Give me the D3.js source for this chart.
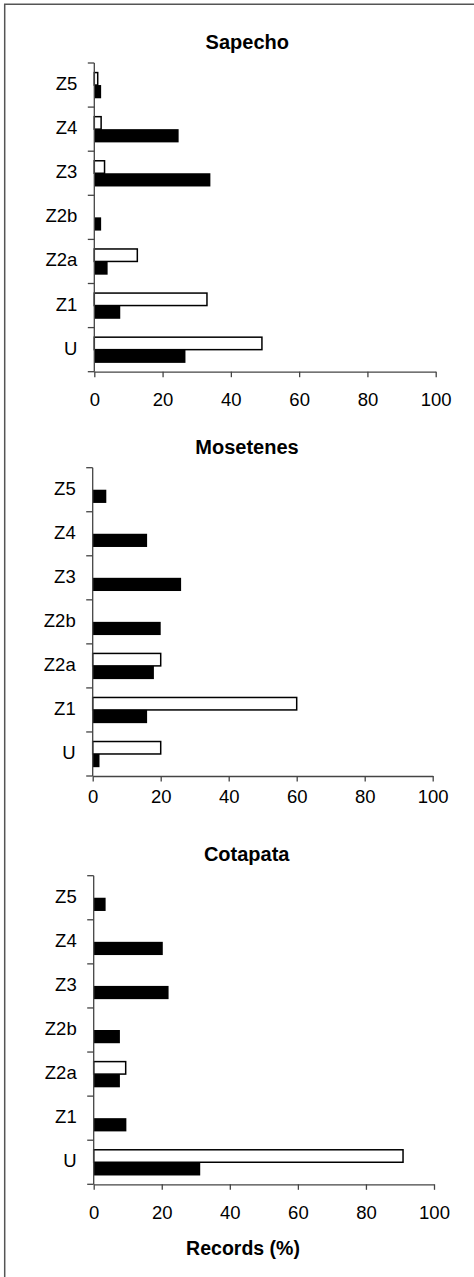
<!DOCTYPE html>
<html>
<head>
<meta charset="utf-8">
<script src="https://cdn.jsdelivr.net/npm/d3@7/dist/d3.min.js"></script>
<style>
  html, body { margin: 0; padding: 0; background: #fff; }
  svg { display: block; }
  text { font-family: "Liberation Sans", Arial, sans-serif; fill: #000; }
</style>
</head>
<body>
<svg id="chart" width="474" height="1277"></svg>
<script>
// ---- Data ----
const categories = ["Z5", "Z4", "Z3", "Z2b", "Z2a", "Z1", "U"];
const xTicks = [0, 20, 40, 60, 80, 100];
const siteNames = ["Sapecho", "Mosetenes", "Cotapata"];
const xAxisTitle = "Records (%)";

// white (open) bars and black (filled) bars, in category order
const sapechoOpen  = [1, 2, 3, 0, 12.6, 33, 49.1];
const sapechoFill  = [2, 24.7, 34, 2, 3.9, 7.6, 26.7];
const mosetenesOpen = [0, 0, 0, 0, 20, 60, 20];
const mosetenesFill = [4, 16, 26, 20, 18, 16, 2];
const cotapataOpen = [0, 0, 0, 0, 9.4, 0, 90.9];
const cotapataFill = [3.5, 20.3, 22, 7.7, 7.7, 9.6, 31.3];

const seriesKeys = ["open", "fill"];

const panelsData = [
  { name: siteNames[0], open: sapechoOpen, fill: sapechoFill },
  { name: siteNames[1], open: mosetenesOpen, fill: mosetenesFill },
  { name: siteNames[2], open: cotapataOpen, fill: cotapataFill }
];

// ---- Layout (positions only) ----
const layout = [
  { top: 63,    bottom: 371.7,  x0: 94.3, x1: 435.7, titleX: 247.3, titleY: 42,    tickPad: 15.6 },
  { top: 467.7, bottom: 776,    x0: 92.7, x1: 432.7, titleX: 247,   titleY: 446.7, tickPad: 8.7 },
  { top: 875.7, bottom: 1184.3, x0: 93.7, x1: 434,   titleX: 246.7, titleY: 854.3, tickPad: 16.4 }
];

const svg = d3.select("#chart");

// frame (left + top edges visible)
svg.append("path")
  .attr("d", "M4.7,1277 L4.7,4.3 L474,4.3")
  .attr("fill", "none")
  .attr("stroke", "#555")
  .attr("stroke-width", 1.5);

const axisColor = "#444";

panelsData.forEach((p, i) => {
  const L = layout[i];
  const g = svg.append("g");

  const x = d3.scaleLinear().domain([0, 100]).range([L.x0, L.x1]);
  const y = d3.scaleBand().domain(categories).range([L.top, L.bottom]).padding(0);
  const ySub = d3.scaleBand().domain(seriesKeys).range([0, y.bandwidth()])
    .paddingInner(0).paddingOuter(0.667);

  // title
  g.append("text")
    .attr("x", L.titleX).attr("y", L.titleY)
    .attr("text-anchor", "middle").attr("dominant-baseline", "central")
    .style("font-size", "20px").style("font-weight", "bold")
    .text(p.name);

  // bars
  const rows = categories.map((c, k) => ({ cat: c, open: p.open[k], fill: p.fill[k] }));

  g.selectAll("rect.open").data(rows.filter(d => d.open > 0)).join("rect")
    .attr("class", "open")
    .attr("x", x(0))
    .attr("y", d => y(d.cat) + ySub("open") + 0.75)
    .attr("width", d => x(d.open) - x(0))
    .attr("height", ySub.bandwidth() - 0.75)
    .attr("fill", "#fff").attr("stroke", "#000").attr("stroke-width", 1.5);

  g.selectAll("rect.fill").data(rows.filter(d => d.fill > 0)).join("rect")
    .attr("class", "fill")
    .attr("x", x(0))
    .attr("y", d => y(d.cat) + ySub("fill"))
    .attr("width", d => x(d.fill) - x(0))
    .attr("height", ySub.bandwidth())
    .attr("fill", "#000");

  // y axis
  const yBoundaries = d3.range(categories.length + 1).map(k => L.top + k * y.step());
  const yAxis = g.append("g");
  yAxis.append("line")
    .attr("x1", x(0)).attr("x2", x(0))
    .attr("y1", L.top).attr("y2", L.bottom)
    .attr("stroke", axisColor).attr("stroke-width", 1.3);
  yAxis.selectAll("line.tick").data(yBoundaries).join("line")
    .attr("class", "tick")
    .attr("x1", x(0) - 6.5).attr("x2", x(0))
    .attr("y1", d => d).attr("y2", d => d)
    .attr("stroke", axisColor).attr("stroke-width", 1.3);
  yAxis.selectAll("text").data(categories).join("text")
    .attr("x", x(0) - 17)
    .attr("y", d => y(d) + y.bandwidth() / 2 - 1.5)
    .attr("text-anchor", "end").attr("dominant-baseline", "central")
    .style("font-size", "18.5px")
    .text(d => d);

  // x axis
  const xAxis = d3.axisBottom(x).tickValues(xTicks).tickSize(5.5).tickPadding(L.tickPad).tickSizeOuter(0);
  const gx = g.append("g").attr("transform", `translate(0,${L.bottom})`).call(xAxis);
  gx.select(".domain").attr("stroke", axisColor).attr("stroke-width", 1.3);
  gx.selectAll(".tick line").attr("stroke", axisColor).attr("stroke-width", 1.3);
  gx.selectAll(".tick text")
    .style("font-size", "18.5px")
    .style("font-family", "'Liberation Sans', Arial, sans-serif")
    .attr("fill", "#000");
});

// x axis title
svg.append("text")
  .attr("x", 243).attr("y", 1248.3)
  .attr("text-anchor", "middle").attr("dominant-baseline", "central")
  .style("font-size", "19.5px").style("font-weight", "bold")
  .text(xAxisTitle);
</script>
</body>
</html>
